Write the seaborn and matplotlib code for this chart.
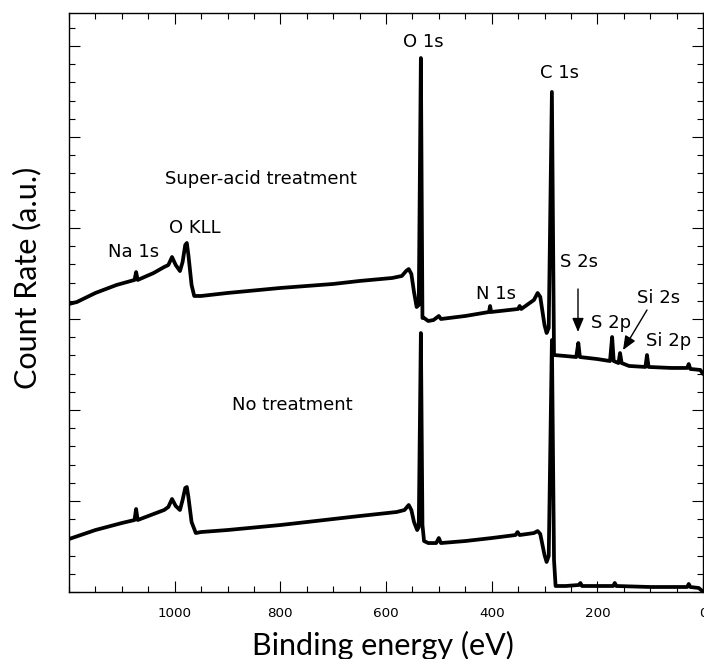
import numpy as np
import pandas as pd
import matplotlib
matplotlib.use("Agg")
import matplotlib.pyplot as plt
from matplotlib.ticker import MultipleLocator, FixedLocator
import seaborn as sns

# ---- data (binding energy in eV, count rate in arbitrary units) ----
acid_energy = [1200, 1185, 1150, 1110, 1076, 1073, 1070, 1040, 1020, 1012, 1005, 998, 990,
               985, 980, 977, 974, 968, 963, 950, 900, 800, 700, 650, 588, 570, 562, 557,
               552, 547, 542, 538, 534, 531, 528, 520, 510, 500, 496, 450, 405, 403, 401,
               350, 347, 344, 320, 313, 308, 300, 296, 292, 286, 282, 260, 240, 236, 233,
               200, 176, 172, 169, 160, 157, 154, 140, 109, 106, 103, 60, 30, 27, 24, 5, 0]
acid_counts = [3.165, 3.187, 3.286, 3.374, 3.429, 3.516, 3.429, 3.505, 3.571, 3.593, 3.681,
               3.593, 3.527, 3.626, 3.813, 3.835, 3.703, 3.374, 3.253, 3.253, 3.286, 3.341,
               3.385, 3.418, 3.451, 3.473, 3.527, 3.549, 3.495, 3.297, 3.132, 3.154, 5.868,
               3.011, 3.011, 2.978, 2.989, 3.033, 3.000, 3.033, 3.077, 3.143, 3.077, 3.110,
               3.143, 3.110, 3.209, 3.286, 3.242, 2.934, 2.846, 2.901, 5.495, 2.604, 2.593,
               2.582, 2.736, 2.582, 2.560, 2.538, 2.802, 2.538, 2.516, 2.626, 2.516, 2.484,
               2.473, 2.604, 2.473, 2.462, 2.462, 2.505, 2.451, 2.440, 2.396]

none_energy = [1200, 1150, 1100, 1076, 1073, 1070, 1040, 1020, 1012, 1005, 998, 990, 985,
               980, 977, 974, 968, 960, 950, 900, 800, 700, 650, 580, 565, 557, 552, 547,
               541, 538, 534, 531, 528, 520, 505, 500, 496, 450, 400, 355, 351, 347, 320,
               313, 308, 300, 296, 292, 286, 282, 279, 260, 235, 232, 229, 170, 167, 164,
               100, 30, 27, 24, 8, 0]
none_counts = [0.582, 0.681, 0.758, 0.791, 0.912, 0.791, 0.857, 0.901, 0.934, 1.022, 0.945,
               0.901, 1.011, 1.143, 1.154, 1.044, 0.769, 0.648, 0.659, 0.681, 0.736, 0.802,
               0.835, 0.879, 0.901, 0.956, 0.901, 0.769, 0.681, 0.714, 2.846, 0.736, 0.560,
               0.538, 0.538, 0.593, 0.538, 0.560, 0.593, 0.626, 0.659, 0.626, 0.648, 0.670,
               0.637, 0.407, 0.330, 0.396, 2.769, 0.352, 0.066, 0.066, 0.077, 0.099, 0.066,
               0.066, 0.099, 0.066, 0.055, 0.055, 0.088, 0.055, 0.044, 0.005]

x_ticks = [1000, 800, 600, 400, 200, 0]
x_tick_labels = ["1000", "800", "600", "400", "200", "0"]

peak_labels = ["Na 1s", "O KLL", "O 1s", "C 1s", "S 2s", "N 1s", "S 2p", "Si 2s", "Si 2p"]
peak_label_x = [1077, 961.5, 529, 272.5, 235.6, 392.7, 173.2, 83.3, 65.3]
peak_label_y = [3.681, 3.945, 5.989, 5.648, 3.571, 3.220, 2.901, 3.176, 2.703]

df = pd.concat([
    pd.DataFrame({"energy": acid_energy, "counts": acid_counts, "sample": "Super-acid treatment"}),
    pd.DataFrame({"energy": none_energy, "counts": none_counts, "sample": "No treatment"}),
], ignore_index=True)

sns.set_theme(style="ticks")
plt.rcParams["font.family"] = ["DejaVu Sans"]

fig = plt.figure(figsize=(7.04, 6.59), dpi=100)
ax = fig.add_axes([69 / 704, 1 - 592 / 659, 634 / 704, 579 / 659])

sns.lineplot(data=df, x="energy", y="counts", hue="sample", units="sample",
             estimator=None, sort=False, palette=["black", "black"], legend=False,
             linewidth=2.7, ax=ax)

ax.set_xlim(1200, 0)
ax.set_ylim(0, 579 / 91)

ax.xaxis.set_major_locator(FixedLocator(x_ticks))
ax.set_xticks(x_ticks)
ax.set_xticklabels(x_tick_labels)
ax.xaxis.set_minor_locator(MultipleLocator(50))
ax.yaxis.set_major_locator(MultipleLocator(1))
ax.yaxis.set_minor_locator(MultipleLocator(0.2))
ax.set_yticklabels([])

for s in ax.spines.values():
    s.set_visible(True)
    s.set_linewidth(1.0)
    s.set_color("black")

ax.tick_params(axis="both", which="both", direction="in", top=True, right=True,
               color="black", width=0.8)
ax.tick_params(axis="both", which="major", length=8)
ax.tick_params(axis="both", which="minor", length=4.3)
ax.tick_params(axis="x", which="major", labelsize=9.7, pad=11, labelcolor="black")
ax.tick_params(axis="y", which="both", labelleft=False)

ax.set_xlabel("Binding energy (eV)", fontsize=22, family=["Lato", "DejaVu Sans"],
              va="baseline", color="black")
ax.xaxis.set_label_coords((383 - 69) / 634, (592 - 655) / 579)
ax.set_ylabel("Count Rate (a.u.)", fontsize=22, family=["Lato", "DejaVu Sans"],
              va="center", color="black")
ax.yaxis.set_label_coords((27.5 - 69) / 634, (592 - 278) / 579)

for lab, lx, ly in zip(peak_labels, peak_label_x, peak_label_y):
    ax.text(lx, ly, lab, ha="center", va="baseline", fontsize=13, color="black")

ax.text(1018.3, 4.484, "Super-acid treatment", ha="left", va="baseline", fontsize=13,
        color="black")
ax.text(891.5, 2.0, "No treatment", ha="left", va="baseline", fontsize=13, color="black")

arrow_kw = dict(arrowstyle="-|>,head_length=0.6,head_width=0.25", color="black", lw=1.0,
                mutation_scale=14, shrinkA=0, shrinkB=0)
ax.annotate("", xy=(236.6, 2.857), xytext=(236.6, 3.330), arrowprops=arrow_kw)
ax.annotate("", xy=(151.4, 2.659), xytext=(106.0, 3.099), arrowprops=arrow_kw)

fig.savefig("out.png", dpi=100)
